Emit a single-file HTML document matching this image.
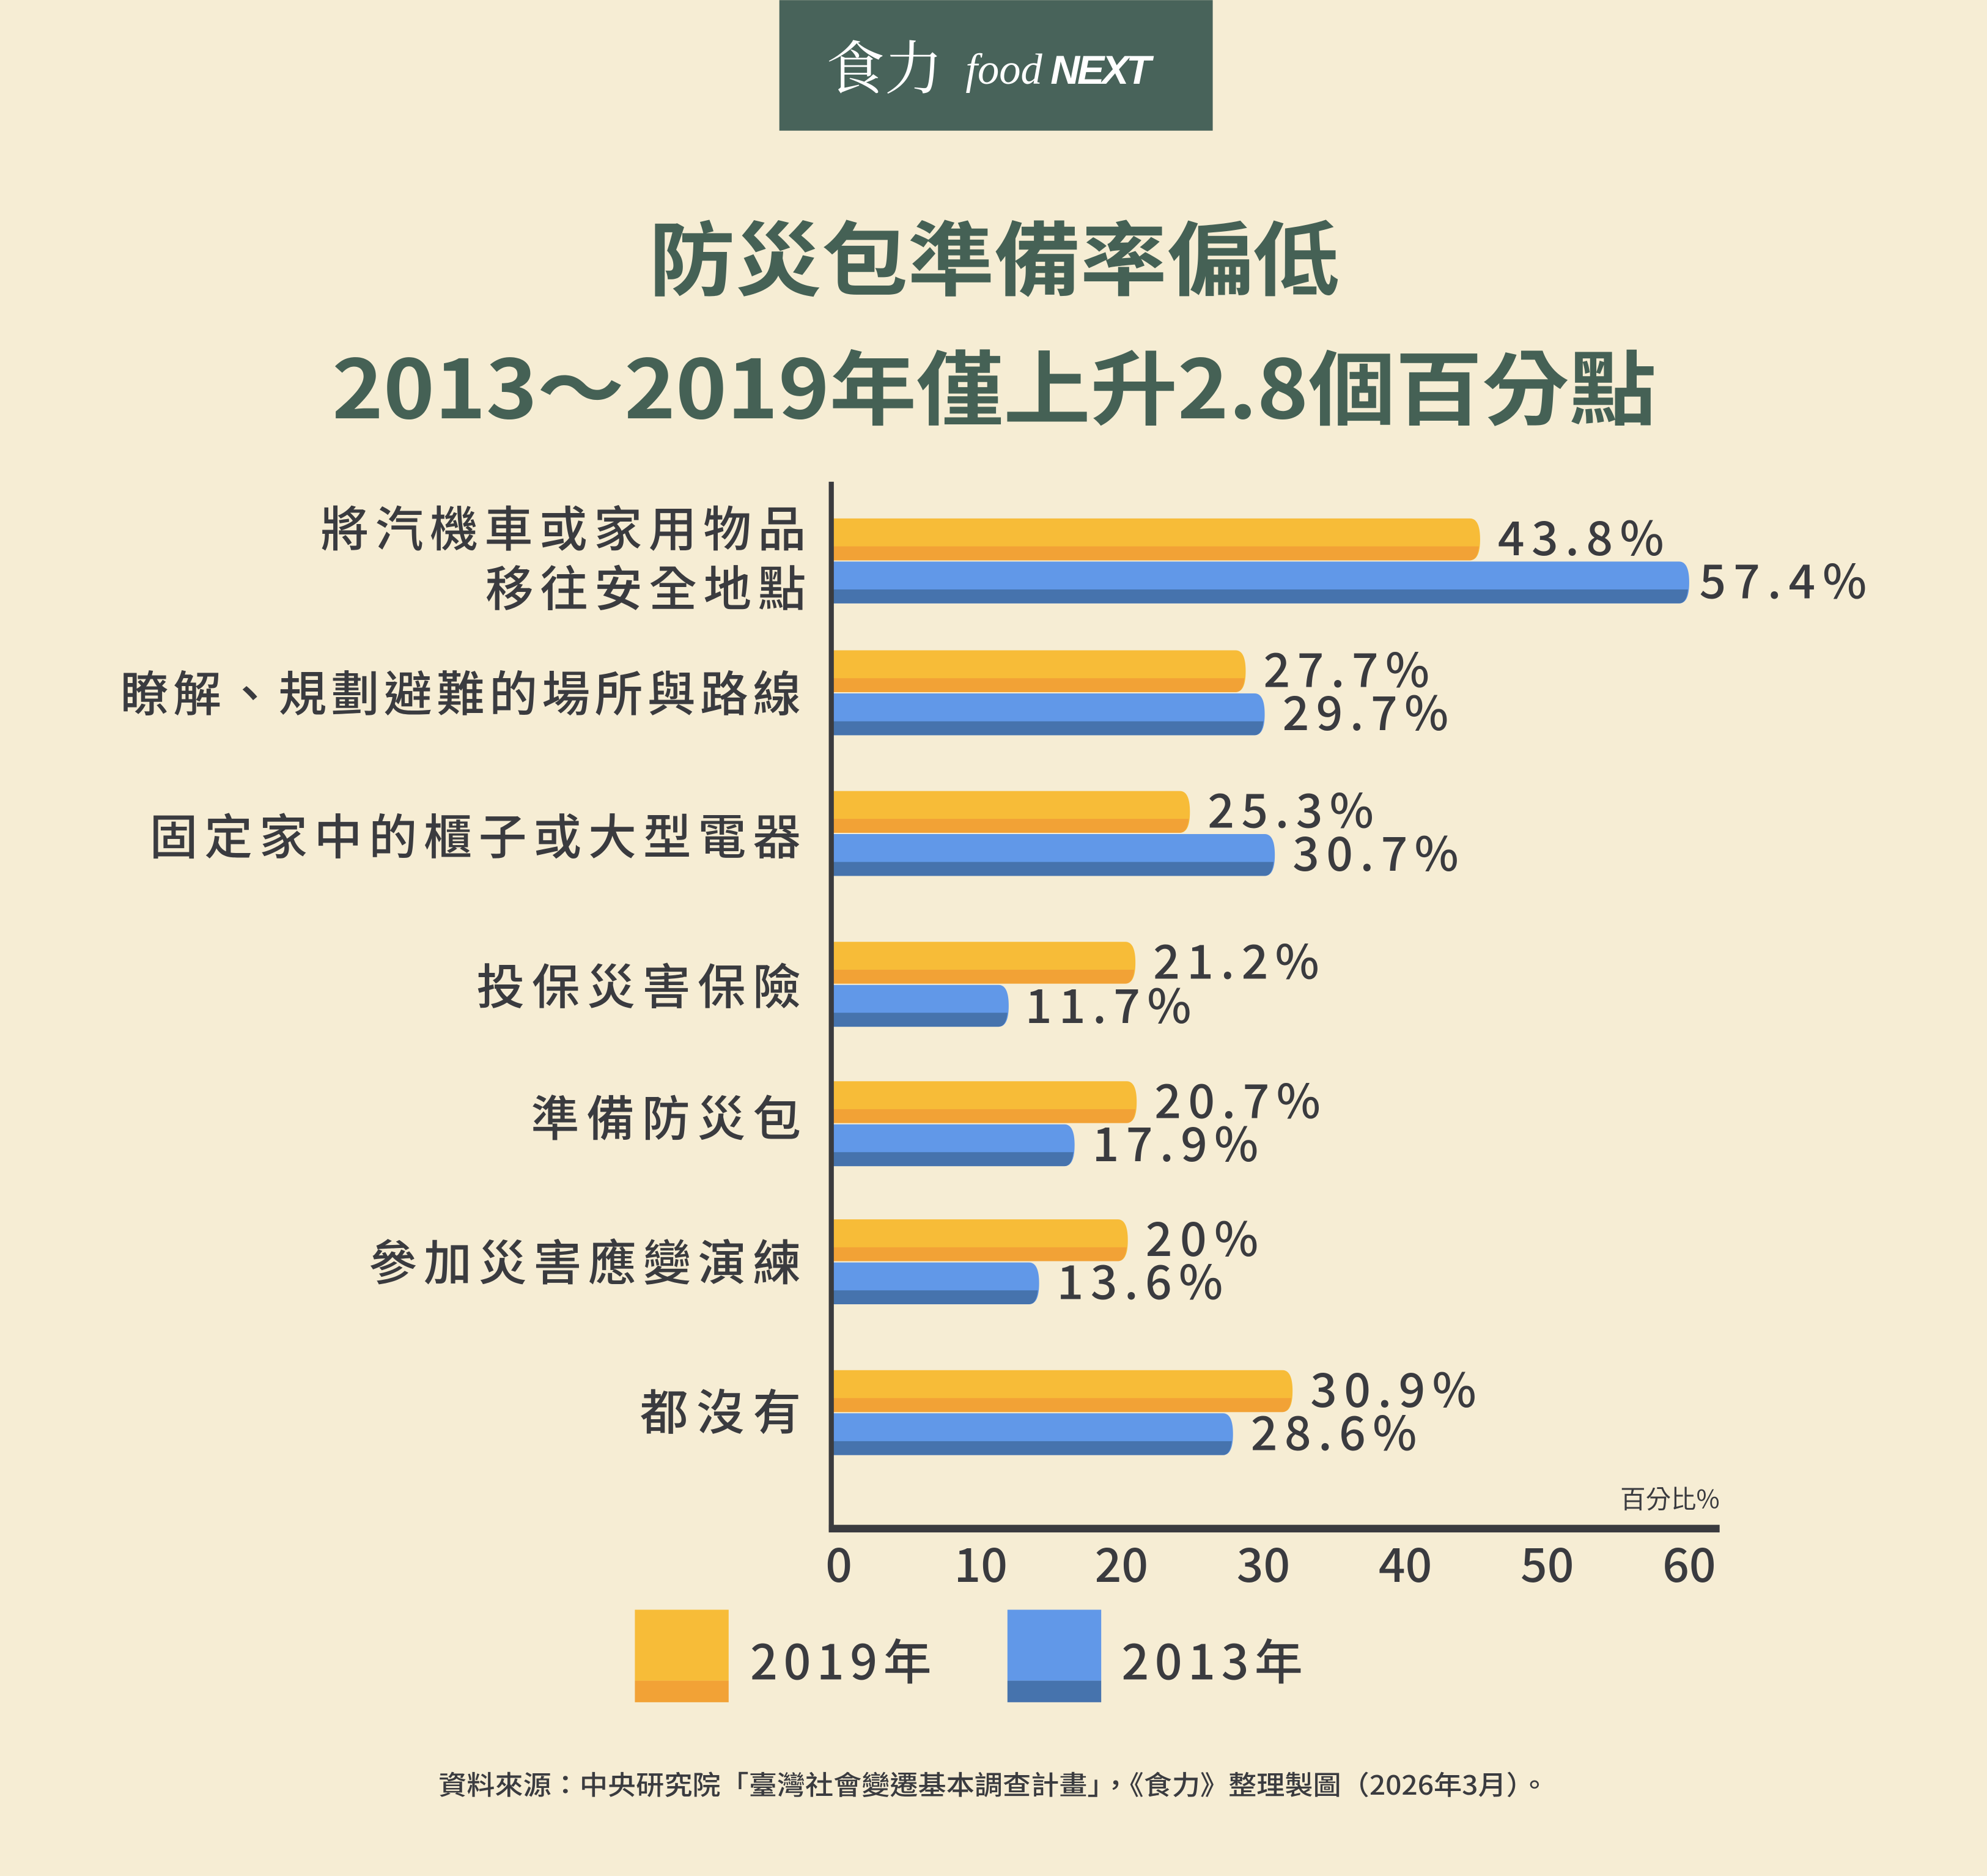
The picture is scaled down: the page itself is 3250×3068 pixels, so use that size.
<!DOCTYPE html>
<html><head><meta charset="utf-8"><style>
html,body{margin:0;padding:0;background:#f6edd4;}
svg{display:block;}
text{font-family:"Noto Sans CJK TC","Liberation Sans",sans-serif;fill:#3a3b3f;}
.lab{font-size:38px;text-anchor:end;font-weight:500;}
.val{font-size:37px;font-weight:500;}
</style></head><body>
<svg width="3250" height="3068" viewBox="0 0 1568 1480" xmlns="http://www.w3.org/2000/svg">
<rect width="1568" height="1480" fill="#f6edd4"/>
<rect x="615" y="0" width="342" height="103" fill="#48635a"/>
<text x="652" y="70" style="font-family:'Noto Serif CJK SC','Liberation Serif',serif;font-size:46px;fill:#fff;">食力</text>
<text x="762" y="66" style="font-family:'Liberation Serif',serif;font-style:italic;font-size:34px;fill:#fff;">food</text>
<text x="829" y="66" style="font-family:'Liberation Sans',sans-serif;font-size:32px;font-weight:bold;font-style:italic;fill:#fff;letter-spacing:-2px;">NEXT</text>
<text x="512" y="228" textLength="545" lengthAdjust="spacingAndGlyphs" style="font-size:64px;font-weight:bold;fill:#456155;">防災包準備率偏低</text>
<text x="262" y="330" textLength="1045" lengthAdjust="spacingAndGlyphs" style="font-size:64px;font-weight:bold;fill:#456155;">2013～2019年僅上升2.8個百分點</text>

<g>
<path d="M656 409H1160Q1168 409 1168 425.5Q1168 442 1160 442H656Z" fill="#f7bc38"/><path d="M656 431H1167Q1166 442 1160 442H656Z" fill="#f2a236"/>
<path d="M656 443H1325Q1333 443 1333 459.5Q1333 476 1325 476H656Z" fill="#6198e8"/><path d="M656 465H1332Q1331 476 1325 476H656Z" fill="#4673ad"/>

<path d="M656 513H975Q983 513 983 529.5Q983 546 975 546H656Z" fill="#f7bc38"/><path d="M656 535H982Q981 546 975 546H656Z" fill="#f2a236"/>
<path d="M656 547H990Q998 547 998 563.5Q998 580 990 580H656Z" fill="#6198e8"/><path d="M656 569H997Q996 580 990 580H656Z" fill="#4673ad"/>

<path d="M656 624H931Q939 624 939 640.5Q939 657 931 657H656Z" fill="#f7bc38"/><path d="M656 646H938Q937 657 931 657H656Z" fill="#f2a236"/>
<path d="M656 658H998Q1006 658 1006 674.5Q1006 691 998 691H656Z" fill="#6198e8"/><path d="M656 680H1005Q1004 691 998 691H656Z" fill="#4673ad"/>

<path d="M656 743H888Q896 743 896 759.5Q896 776 888 776H656Z" fill="#f7bc38"/><path d="M656 765H895Q894 776 888 776H656Z" fill="#f2a236"/>
<path d="M656 777H788Q796 777 796 793.5Q796 810 788 810H656Z" fill="#6198e8"/><path d="M656 799H795Q794 810 788 810H656Z" fill="#4673ad"/>

<path d="M656 853H889Q897 853 897 869.5Q897 886 889 886H656Z" fill="#f7bc38"/><path d="M656 875H896Q895 886 889 886H656Z" fill="#f2a236"/>
<path d="M656 887H840Q848 887 848 903.5Q848 920 840 920H656Z" fill="#6198e8"/><path d="M656 909H847Q846 920 840 920H656Z" fill="#4673ad"/>

<path d="M656 962H882Q890 962 890 978.5Q890 995 882 995H656Z" fill="#f7bc38"/><path d="M656 984H889Q888 995 882 995H656Z" fill="#f2a236"/>
<path d="M656 996H812Q820 996 820 1012.5Q820 1029 812 1029H656Z" fill="#6198e8"/><path d="M656 1018H819Q818 1029 812 1029H656Z" fill="#4673ad"/>

<path d="M656 1081H1012Q1020 1081 1020 1097.5Q1020 1114 1012 1114H656Z" fill="#f7bc38"/><path d="M656 1103H1019Q1018 1114 1012 1114H656Z" fill="#f2a236"/>
<path d="M656 1115H965Q973 1115 973 1131.5Q973 1148 965 1148H656Z" fill="#6198e8"/><path d="M656 1137H972Q971 1148 965 1148H656Z" fill="#4673ad"/>
</g>

<rect x="654" y="380" width="4" height="828" fill="#3a3b3f"/>
<rect x="654" y="1203" width="703" height="6" fill="#3a3b3f"/>

<g>
<text class="val" x="1182" y="438" textLength="131">43.8%</text>
<text class="val" x="1341" y="472" textLength="132">57.4%</text>
<text class="val" x="997" y="542" textLength="131">27.7%</text>
<text class="val" x="1012" y="576" textLength="131">29.7%</text>
<text class="val" x="953" y="653" textLength="131">25.3%</text>
<text class="val" x="1020" y="687" textLength="131">30.7%</text>
<text class="val" x="910" y="772" textLength="131">21.2%</text>
<text class="val" x="809" y="807" textLength="131">11.7%</text>
<text class="val" x="911" y="882" textLength="131">20.7%</text>
<text class="val" x="862" y="916" textLength="131">17.9%</text>
<text class="val" x="904" y="991" textLength="89">20%</text>
<text class="val" x="834" y="1025" textLength="131">13.6%</text>
<text class="val" x="1034" y="1110" textLength="131">30.9%</text>
<text class="val" x="987" y="1144" textLength="131">28.6%</text>
</g>

<text class="lab" x="636" y="431" textLength="383">將汽機車或家用物品</text>
<text class="lab" x="636" y="478" textLength="253">移往安全地點</text>
<text class="lab" x="632" y="561" textLength="537">瞭解、規劃避難的場所與路線</text>
<text class="lab" x="632" y="674" textLength="514">固定家中的櫃子或大型電器</text>
<text class="lab" x="632" y="792" textLength="256">投保災害保險</text>
<text class="lab" x="632" y="896" textLength="213">準備防災包</text>
<text class="lab" x="632" y="1010" textLength="341">參加災害應變演練</text>
<text class="lab" x="632" y="1128" textLength="127">都沒有</text>

<text x="1357" y="1190" text-anchor="end" style="font-size:20px;">百分比%</text>

<g style="font-size:37px;font-weight:500;" text-anchor="middle">
<text x="662" y="1248">0</text>
<text x="774" y="1248">10</text>
<text x="885" y="1248">20</text>
<text x="997" y="1248">30</text>
<text x="1109" y="1248">40</text>
<text x="1221" y="1248">50</text>
<text x="1333" y="1248">60</text>
</g>

<rect x="501" y="1270" width="74" height="56" fill="#f7bc38"/><rect x="501" y="1326" width="74" height="17" fill="#f2a236"/>
<text x="592" y="1325" textLength="143" style="font-size:38px;font-weight:500;">2019年</text>
<rect x="795" y="1270" width="74" height="56" fill="#6198e8"/><rect x="795" y="1326" width="74" height="17" fill="#4673ad"/>
<text x="885" y="1325" textLength="143" style="font-size:38px;font-weight:500;">2013年</text>

<text x="346" y="1416" textLength="876" lengthAdjust="spacingAndGlyphs" style="font-size:21px;font-weight:500;">資料來源：中央研究院「臺灣社會變遷基本調查計畫」，《食力》整理製圖（2026年3月）。</text>
</svg>
</body></html>
